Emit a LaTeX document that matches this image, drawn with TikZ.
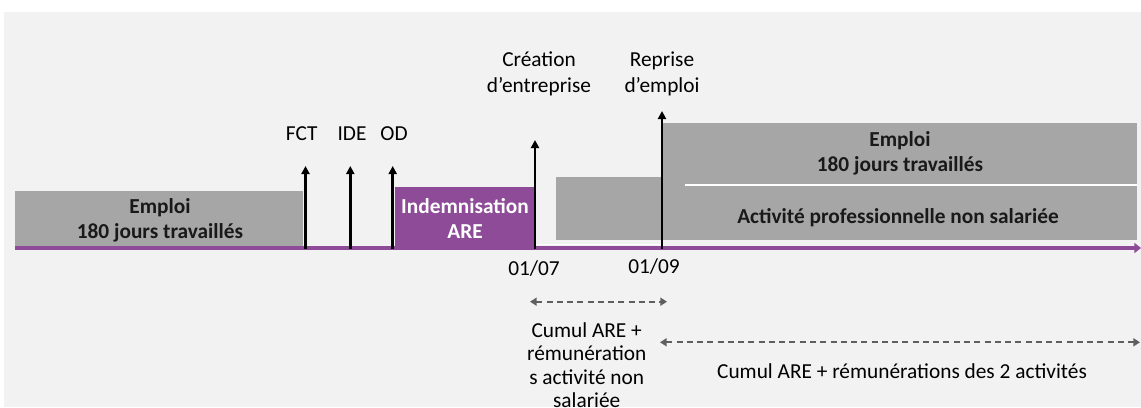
\documentclass[tikz,border=0pt]{standalone}
\usepackage{fontspec}
\setmainfont{Carlito}
\usetikzlibrary{arrows.meta}
\definecolor{bgg}{HTML}{F2F2F2}
\definecolor{boxg}{HTML}{A6A6A6}
\definecolor{purp}{HTML}{8E4B98}
\definecolor{dashg}{HTML}{5F5F5F}
\begin{document}
\begin{tikzpicture}[x=0.75pt,y=-0.75pt,
  txt/.style={font=\fontsize{16}{19.7}\selectfont, inner sep=0pt, align=center, text=black, anchor=base},
  boxtxt/.style={font=\fontsize{16}{18.75}\selectfont\bfseries, inner sep=0pt, align=center, text=black!90, anchor=base},
  graybox/.style={fill=boxg, draw=none, inner sep=0pt},
  purpbox/.style={fill=purp, draw=none, inner sep=0pt},
  evt/.style={draw=black, line width=1.9pt, -{Triangle[width=6pt,length=6pt]}},
  tl/.style={draw=purp, line width=2.3pt, -{Triangle[width=7.5pt,length=5pt]}},
  span/.style={draw=dashg, line width=1.4pt, dash pattern=on 4.5pt off 3.2pt, {Triangle[width=6pt,length=5pt]}-{Triangle[width=6pt,length=5pt]}}
]
\useasboundingbox (0,0) rectangle (1141,407);
\fill[bgg] (4,12) rectangle (1141,407);

% boxes (multi-line texts are placed by the baseline of their last line)
\node[graybox, minimum width=216pt, minimum height=42.75pt] (emp1) at (159,219.5) {};
\node[boxtxt] (emp1t) at (160,238.3) {Emploi\\180 jours travaillés};
\node[purpbox, minimum width=105pt, minimum height=45.5pt] (are) at (465,217.3) {};
\node[boxtxt, text=white] (aret) at (465,238.3) {Indemnisation\\ARE};
\node[graybox, minimum width=435.75pt, minimum height=47.25pt] (act) at (846.5,208.5) {};
\node[boxtxt] (actt) at (898,223) {Activité professionnelle non salariée};
\node[graybox, minimum width=356.25pt, minimum height=45.75pt] (emp2) at (899.5,153.5) {};
\node[boxtxt] (emp2t) at (900,171.5) {Emploi\\180 jours travaillés};
\coordinate (wl1) at (685,184.5);
\coordinate (wl2) at (1137,184.5);
\draw[white, line width=1.5pt] (wl1) -- (wl2);
\coordinate (wl3) at (537,244.5);
\coordinate (wl4) at (660,244.5);
\draw[white, line width=0.8pt] (wl3) -- (wl4);

% timeline
\coordinate (t0) at (15,248);
\coordinate (t1) at (1141,248);
\draw[tl] (t0) -- (t1);

% event arrows
\coordinate (fctb) at (305.5,249); \coordinate (fctt) at (305.5,166);
\coordinate (ideb) at (350.3,249); \coordinate (idet) at (350.3,166);
\coordinate (odb) at (392.7,249);  \coordinate (odt) at (392.7,166);
\coordinate (creb) at (535,249);   \coordinate (cret) at (535,140);
\coordinate (repb) at (662,249);   \coordinate (rept) at (662,111);
\draw[evt] (fctb) -- (fctt);
\draw[evt] (ideb) -- (idet);
\draw[evt] (odb) -- (odt);
\draw[evt] (creb) -- (cret);
\draw[evt] (repb) -- (rept);

% labels
\node[txt] (fct) at (301.7,140.7) {FCT};
\node[txt] (ide) at (352,140.7) {IDE};
\node[txt] (od) at (394,140.7) {OD};
\node[txt] (cre) at (539,92.3) {Création\\d’entreprise};
\node[txt] (rep) at (662,92.3) {Reprise\\d’emploi};
\node[txt] (d1) at (534,275.7) {01/07};
\node[txt] (d2) at (654,273.5) {01/09};

% spans
\coordinate (s1a) at (530,301.7); \coordinate (s1b) at (667,301.7);
\coordinate (s2a) at (660,342.3); \coordinate (s2b) at (1140,342.3);
\draw[span] (s1a) -- (s1b);
\draw[span] (s2a) -- (s2b);
\node[txt, font=\fontsize{16}{17.5}\selectfont] (c1) at (586.7,407.5) {Cumul ARE +\\rémunération\\s activité non\\salariée};
\node[txt] (c2) at (902,378.7) {Cumul ARE + rémunérations des 2 activités};
\end{tikzpicture}
\end{document}
